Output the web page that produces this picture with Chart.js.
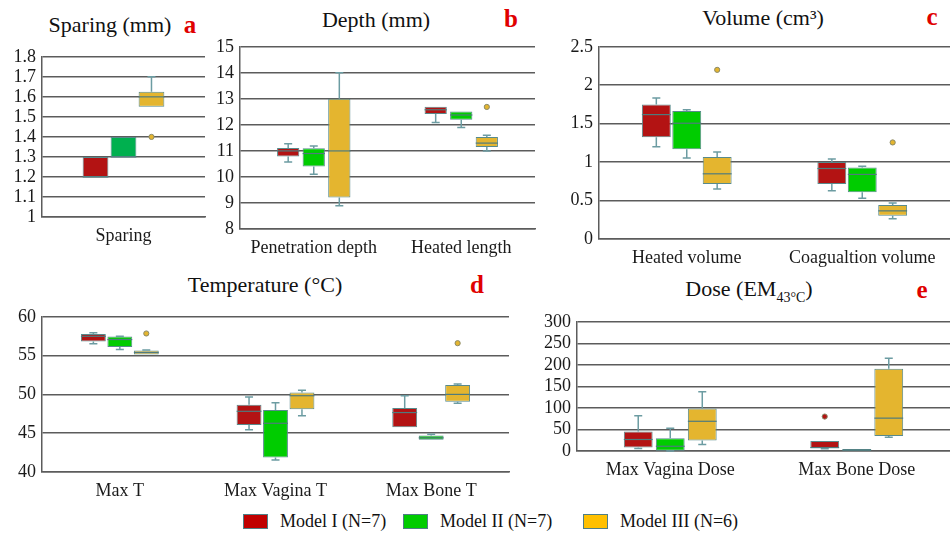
<!DOCTYPE html>
<html>
<head>
<meta charset="utf-8">
<script src="https://cdn.jsdelivr.net/npm/chart.js@4.4.0/dist/chart.umd.min.js"></script>
<style>
  body { margin: 0; background: #fff; width: 950px; height: 538px; position: relative; overflow: hidden;
         font-family: 'Liberation Serif', 'Times New Roman', serif; color: #111; }
  canvas { position: absolute; }
  .title { position: absolute; font-size: 22px; transform: translate(-50%, -50%); white-space: nowrap; }
  .tag { position: absolute; font-size: 25px; font-weight: bold; color: #e00000; transform: translate(-50%, -50%); }
  .legend { position: absolute; top: 511px; height: 20px; font-size: 18px; display: flex; align-items: center; }
  .legend span.sw { display: inline-block; width: 23px; height: 13px; border: 1.5px solid #4f7f86; margin-right: 12px; }
</style>
</head>
<body>
<div class="title" style="left:110px;top:25px">Sparing (mm)</div><div class="tag" style="left:190px;top:25px">a</div>
<div class="title" style="left:376px;top:20px">Depth (mm)</div><div class="tag" style="left:511px;top:19px">b</div>
<div class="title" style="left:763px;top:18px">Volume (cm³)</div><div class="tag" style="left:932px;top:17px">c</div>
<div class="title" style="left:265px;top:285px">Temperature (°C)</div><div class="tag" style="left:477px;top:285px">d</div>
<div class="title" style="left:749px;top:291px">Dose (EM<sub style="font-size:14px">43°C</sub>)</div><div class="tag" style="left:922px;top:290px">e</div>

<canvas id="pa" width="210" height="210" style="left:0px;top:40px"></canvas>
<canvas id="pb" width="340" height="230" style="left:200px;top:30px"></canvas>
<canvas id="pc" width="405" height="240" style="left:545px;top:30px"></canvas>
<canvas id="pd" width="515" height="200" style="left:0px;top:300px"></canvas>
<canvas id="pe" width="430" height="180" style="left:520px;top:305px"></canvas>

<div class="legend" style="left:243px"><span class="sw" style="background:#c00000"></span>Model I (N=7)</div>
<div class="legend" style="left:403px"><span class="sw" style="background:#00cc00"></span>Model II (N=7)</div>
<div class="legend" style="left:583px"><span class="sw" style="background:#ffc000"></span>Model III (N=6)</div>

<script>
// each box: [min, q1, median, q3, max]
const sparingCats = ['Sparing'];
const sparingM1 = [[1.2, 1.2, 1.2, 1.3, 1.3]];
const sparingM2 = [[1.3, 1.3, 1.3, 1.4, 1.4]];
const sparingM3 = [[1.55, 1.55, 1.6, 1.625, 1.7]];
const sparingOut = [[[]], [[]], [[1.4]]];
const sparingRange = [1, 1.8, 0.1];

const depthCats = ['Penetration depth', 'Heated length'];
const depthM1 = [[10.57, 10.79, 11.0, 11.11, 11.28], [12.09, 12.42, 12.58, 12.7, 12.7]];
const depthM2 = [[10.1, 10.4, 10.9, 11.1, 11.19], [11.9, 12.2, 12.38, 12.51, 12.51]];
const depthM3 = [[8.89, 9.21, 11.0, 13.0, 14.0], [11.0, 11.15, 11.3, 11.53, 11.6]];
const depthOut = [[[], []], [[], []], [[], [12.69]]];
const depthRange = [8, 15, 1];

const volumeCats = ['Heated volume', 'Coagualtion volume'];
const volumeM1 = [[1.2, 1.325, 1.618, 1.75, 1.833], [0.628, 0.714, 0.917, 1.0, 1.041]];
const volumeM2 = [[1.054, 1.166, 1.506, 1.665, 1.68], [0.53, 0.607, 0.84, 0.93, 0.947]];
const volumeM3 = [[0.65, 0.714, 0.848, 1.067, 1.132], [0.262, 0.301, 0.366, 0.443, 0.469]];
const volumeOut = [[[], []], [[], []], [[2.2], [1.256]]];
const volumeRange = [0, 2.5, 0.5];

const tempCats = ['Max T', 'Max Vagina T', 'Max Bone T'];
const tempM1 = [[56.53, 56.82, 57.49, 57.78, 57.95], [45.44, 46.07, 47.82, 48.66, 49.67], [45.77, 45.77, 47.66, 48.24, 49.83]];
const tempM2 = [[55.77, 56.11, 57.07, 57.45, 57.5], [41.55, 41.88, 46.28, 47.99, 48.91], [44.14, 44.14, 44.4, 44.69, 44.85]];
const tempM3 = [[55.15, 55.15, 55.4, 55.65, 55.73], [47.24, 48.08, 49.83, 50.25, 50.54], [48.87, 49.04, 50.0, 51.21, 51.34]];
const tempOut = [[[], [], []], [[], [], []], [[57.85], [], [56.6]]];
const tempRange = [40, 60, 5];

const doseCats = ['Max Vagina Dose', 'Max Bone Dose'];
const doseM1 = [[6, 8.2, 26.7, 45, 82], [5, 6.5, 8, 23, 23]];
const doseM2 = [[0, 0.7, 11, 29.6, 52.6], [0.7, 0.7, 2, 4.5, 4.5]];
const doseM3 = [[14.9, 24.4, 69, 98.5, 137.8], [31.9, 34.8, 76.3, 191, 215.5]];
const doseOut = [[[], [80]], [[], []], [[], []]];
const doseRange = [0, 300, 50];

const red = '#b31313', green = '#00cc00', greenA = '#00b04f', yellow = '#e4b52f';
const edge = '#588a8c', whisk = '#6c9ca2', medCol = '#4f7b7d', gridCol = '#5c5c5c';

const boxExtras = {
    id: 'boxExtras',
    afterDatasetsDraw(chart) {
        const ctx = chart.ctx, ys = chart.scales.y;
        chart.data.datasets.forEach((ds, i) => {
            chart.getDatasetMeta(i).data.forEach((bar, j) => {
                const s = ds.stats[j], x = bar.x, hw = bar.width / 2, cap = 4;
                ctx.save();
                ctx.strokeStyle = whisk;
                ctx.lineWidth = 1.5;
                ctx.beginPath();
                if (s[4] > s[3]) {
                    ctx.moveTo(x, ys.getPixelForValue(s[3]));
                    ctx.lineTo(x, ys.getPixelForValue(s[4]));
                    ctx.moveTo(x - cap, ys.getPixelForValue(s[4]));
                    ctx.lineTo(x + cap, ys.getPixelForValue(s[4]));
                }
                if (s[0] < s[1]) {
                    ctx.moveTo(x, ys.getPixelForValue(s[1]));
                    ctx.lineTo(x, ys.getPixelForValue(s[0]));
                    ctx.moveTo(x - cap, ys.getPixelForValue(s[0]));
                    ctx.lineTo(x + cap, ys.getPixelForValue(s[0]));
                }
                ctx.stroke();
                // median
                ctx.strokeStyle = medCol;
                ctx.lineWidth = 1.2;
                ctx.beginPath();
                ctx.moveTo(x - hw, ys.getPixelForValue(s[2]));
                ctx.lineTo(x + hw, ys.getPixelForValue(s[2]));
                ctx.stroke();
                // outliers
                (ds.outliers[j] || []).forEach(v => {
                    ctx.beginPath();
                    ctx.arc(x, ys.getPixelForValue(v), 2.6, 0, Math.PI * 2);
                    ctx.fillStyle = ds.backgroundColor;
                    ctx.fill();
                    ctx.strokeStyle = '#8a8a6a';
                    ctx.lineWidth = 1;
                    ctx.stroke();
                });
                ctx.restore();
            });
        });
    }
};

function makePanel(id, cats, models, outs, range, pos, plot, catPct, barPct, colors) {
    const tickFont = { family: "'Liberation Serif', serif", size: 18 };
    const catFont = { family: "'Liberation Serif', serif", size: 18 };
    new Chart(document.getElementById(id), {
        type: 'bar',
        data: {
            labels: cats,
            datasets: models.map((m, i) => ({
                data: m.map(s => [s[1], s[3]]),
                stats: m,
                outliers: outs[i],
                backgroundColor: colors[i],
                borderColor: edge,
                borderWidth: 1,
                borderSkipped: false,
                categoryPercentage: catPct,
                barPercentage: barPct,
            })),
        },
        options: {
            responsive: false,
            animation: false,
            layout: { padding: { left: 0, top: plot.t - pos.top, right: pos.left + pos.w - plot.r, bottom: 0 } },
            plugins: { legend: { display: false }, tooltip: { enabled: false } },
            scales: {
                y: {
                    min: range[0], max: range[1],
                    ticks: {
                        stepSize: range[2], font: tickFont, color: '#1a1a1a', padding: 6, autoSkip: false,
                        callback: v => String(Number(v.toFixed(2))),
                    },
                    grid: { color: gridCol, lineWidth: 1.5, drawTicks: false },
                    border: { display: true, color: gridCol, width: 1.5 },
                    afterFit: s => { s.width = plot.l - pos.left; },
                },
                x: {
                    ticks: { font: catFont, color: '#1a1a1a', padding: 8, maxRotation: 0, autoSkip: false },
                    grid: { display: false, drawTicks: false },
                    border: { display: true, color: gridCol, width: 1.5 },
                    afterFit: s => { s.height = pos.top + pos.h - plot.b; },
                },
            },
        },
        plugins: [boxExtras],
    });
}

makePanel('pa', sparingCats, [sparingM1, sparingM2, sparingM3], sparingOut, sparingRange,
    { left: 0, top: 40, w: 210, h: 210 }, { l: 42, t: 50, r: 205, b: 217 }, 0.515, 0.92, [red, greenA, yellow]);
makePanel('pb', depthCats, [depthM1, depthM2, depthM3], depthOut, depthRange,
    { left: 200, top: 30, w: 340, h: 230 }, { l: 240, t: 46, r: 535, b: 229 }, 0.52, 0.87, [red, green, yellow]);
makePanel('pc', volumeCats, [volumeM1, volumeM2, volumeM3], volumeOut, volumeRange,
    { left: 545, top: 30, w: 405, h: 240 }, { l: 599, t: 45, r: 950, b: 239 }, 0.52, 0.95, [red, green, yellow]);
makePanel('pd', tempCats, [tempM1, tempM2, tempM3], tempOut, tempRange,
    { left: 0, top: 300, w: 515, h: 200 }, { l: 42, t: 312, r: 509, b: 472 }, 0.51, 0.94, [red, green, yellow]);
makePanel('pe', doseCats, [doseM1, doseM2, doseM3], doseOut, doseRange,
    { left: 520, top: 305, w: 430, h: 180 }, { l: 577, t: 316, r: 950, b: 451 }, 0.515, 0.9, [red, green, yellow]);
</script>
</body>
</html>
